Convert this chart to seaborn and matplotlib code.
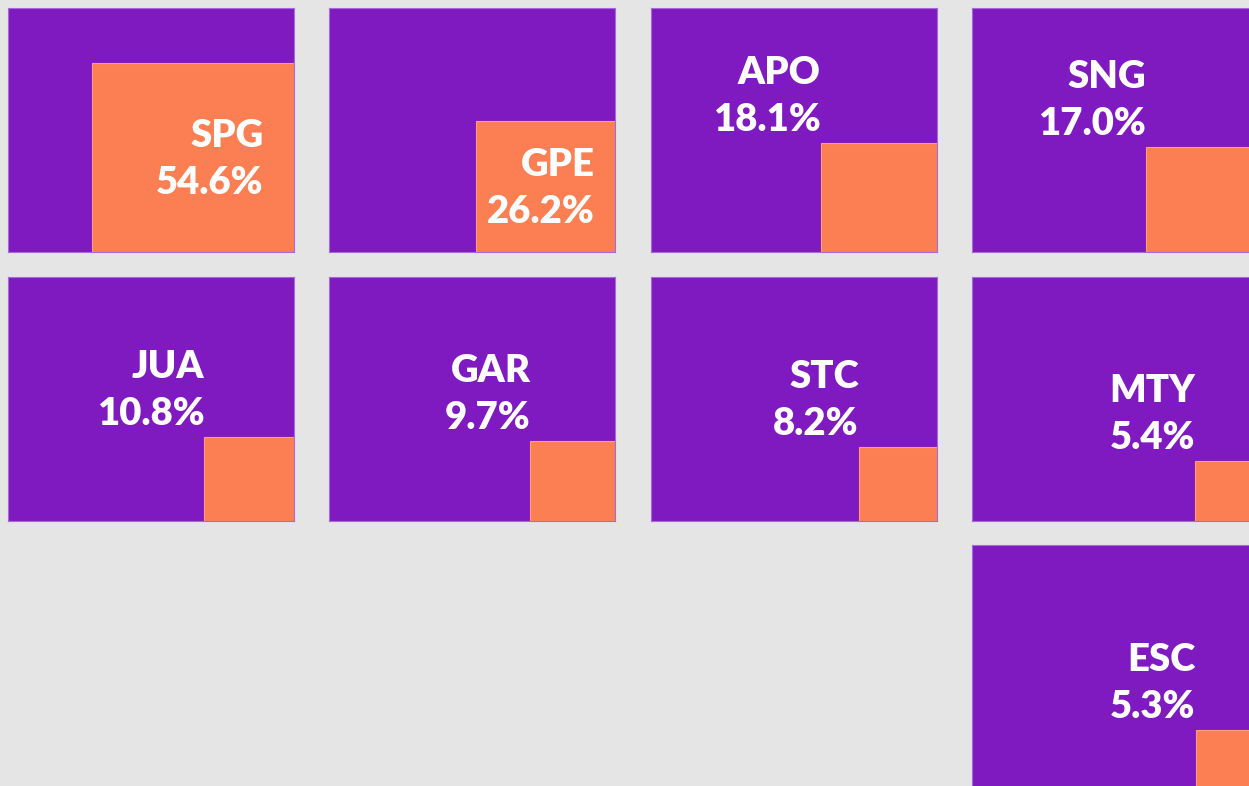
import numpy as np
import pandas as pd
import matplotlib
matplotlib.use("Agg")
import matplotlib.pyplot as plt
import seaborn as sns

# Share of each ticker (percent)
codes = ["SPG", "GPE", "APO", "SNG", "JUA", "GAR", "STC", "MTY", "ESC"]
shares = [54.6, 26.2, 18.1, 17.0, 10.8, 9.7, 8.2, 5.4, 5.3]

# Grid cell (row, column) that each tile occupies
grid_rows = [0, 0, 0, 0, 1, 1, 1, 1, 2]
grid_cols = [0, 1, 2, 3, 0, 1, 2, 3, 3]

PURPLE = "#7e1ac0"
PURPLE_EDGE = "#a56ad8"
ORANGE = "#fb7f52"
ORANGE_EDGE = "#fc9c78"
BG = "#e5e5e5"

FIG_W, FIG_H = 1249, 786          # pixels at dpi 100
TILE_W, TILE_H = 286, 244         # tile size in pixels
GAP_X, GAP_Y = 35.5, 24.5
LEFT, TOP = 8, 8
SQ_RATIO = 1.07                   # width / height of the inner block
FONT_PT = 27.5
LINE_PX = 47

df = pd.DataFrame({"code": codes, "share": shares,
                   "row": grid_rows, "col": grid_cols})

sns.set_theme(style="white", rc={"figure.facecolor": BG,
                                 "axes.facecolor": PURPLE,
                                 "savefig.facecolor": BG})
plt.rcParams["font.family"] = ["Lato", "DejaVu Sans"]

g = sns.FacetGrid(df, row="row", col="col",
                  height=TILE_H / 100, aspect=TILE_W / TILE_H,
                  sharex=True, sharey=True, despine=False)


def draw_tile(data, **kws):
    ax = plt.gca()
    rec = data.iloc[0]
    p = rec["share"] / 100.0
    k = SQ_RATIO * TILE_H / TILE_W
    fw, fh = np.sqrt(p * k), np.sqrt(p / k)   # fw * fh == share of the tile
    ax.bar(1 - fw, fh, width=fw, bottom=0, align="edge",
           color=ORANGE, edgecolor=ORANGE_EDGE, linewidth=0.8, zorder=2)

    w_px = fw * TILE_W
    if w_px > 130:
        # label sits inside the orange block
        x_r = 1 - 0.15 * fw
        y_pct = fh / 2 - 36.5 / TILE_H
    else:
        # label sits just above the block's top-left corner
        x_r = 1 - fw
        y_pct = fh + 12 / TILE_H
    y_code = y_pct + LINE_PX / TILE_H
    style = dict(ha="right", va="baseline", color="white",
                 fontsize=FONT_PT, fontweight="heavy", zorder=3)
    ax.text(x_r, y_code, rec["code"], **style)
    ax.text(x_r, y_pct, f"{rec['share']:.1f}%", **style)


g.map_dataframe(draw_tile)
g.set_titles(template="", row_template="", col_template="")
g.set_axis_labels("", "")

filled = set(zip(grid_rows, grid_cols))
for (r, c), ax in g.axes_dict.items():
    if (r, c) not in filled:
        ax.set_visible(False)
        continue
    ax.set_xlim(0, 1)
    ax.set_ylim(0, 1)
    ax.set_xticks([])
    ax.set_yticks([])
    ax.set_facecolor(PURPLE)
    for sp in ax.spines.values():
        sp.set_visible(True)
        sp.set_color(PURPLE_EDGE)
        sp.set_linewidth(0.8)

n_rows = df["row"].nunique()
n_cols = df["col"].nunique()
fig = g.figure
fig.set_size_inches(FIG_W / 100, FIG_H / 100)
fig.subplots_adjust(
    left=LEFT / FIG_W,
    right=(LEFT + n_cols * TILE_W + (n_cols - 1) * GAP_X) / FIG_W,
    top=1 - TOP / FIG_H,
    bottom=1 - (TOP + n_rows * TILE_H + (n_rows - 1) * GAP_Y) / FIG_H,
    wspace=GAP_X / TILE_W,
    hspace=GAP_Y / TILE_H,
)
fig.savefig("out.png", dpi=100, facecolor=BG)
